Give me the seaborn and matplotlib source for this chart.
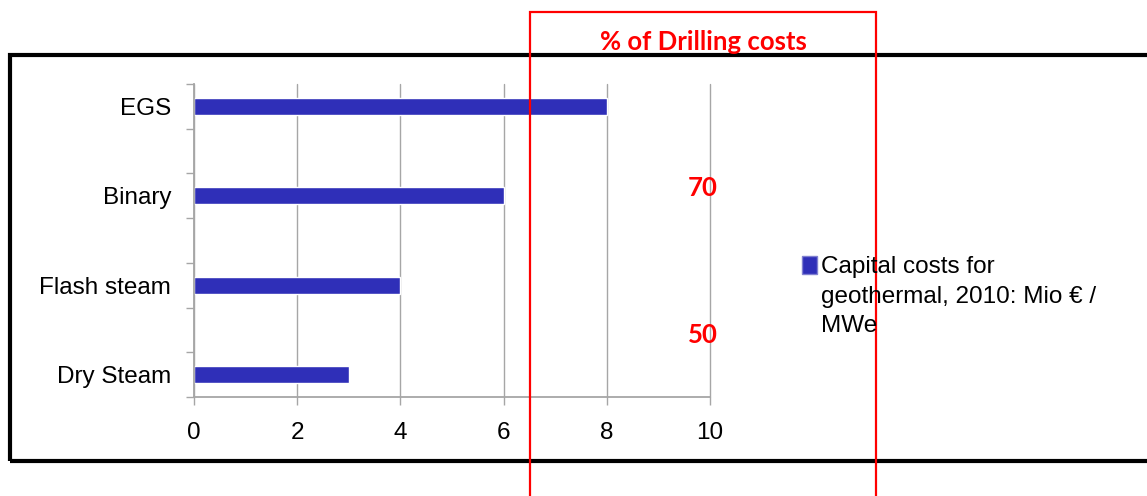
import matplotlib
matplotlib.use('Agg')
import matplotlib.pyplot as plt
import seaborn as sns
import pandas as pd
from matplotlib.patches import Rectangle, Patch
from matplotlib.ticker import FixedLocator

# data
plants = ['EGS', 'Binary', 'Flash steam', 'Dry Steam']
capital_costs = [8, 6, 4, 3]
drilling_share = ['70', '50']
series_name = 'Capital costs for\ngeothermal, 2010: Mio € /\nMWe'

df = pd.DataFrame({'plant': plants, 'cost': capital_costs})

sns.set_theme(style='white')
plt.rcParams['font.family'] = ['Liberation Sans', 'DejaVu Sans']
plt.rcParams['text.color'] = 'black'

bar_col = '#2F2FB8'
grid_col = '#A6A6A6'

fig = plt.figure(figsize=(11.47, 4.96), dpi=100)
ax = fig.add_axes([194 / 1147, 99 / 496, 516 / 1147, 313 / 496])

sns.barplot(data=df, x='cost', y='plant', order=plants, orient='h',
            color=bar_col, saturation=1, width=0.19, ax=ax)

ax.set_xlim(0, 10)
ax.set_ylim(3.25, -0.25)
ax.set_xticks([0, 2, 4, 6, 8, 10])
ax.set_xlabel('')
ax.set_ylabel('')
ax.grid(axis='x', color=grid_col, linewidth=1)
ax.set_axisbelow(True)
for gl in ax.get_xgridlines():
    gl.set_clip_on(False)

for s in ['top', 'right']:
    ax.spines[s].set_visible(False)
for s in ['left', 'bottom']:
    ax.spines[s].set_color(grid_col)
    ax.spines[s].set_linewidth(1.3)

ax.yaxis.set_minor_locator(FixedLocator([-0.25 + 0.5 * i for i in range(8)]))
ax.tick_params(axis='y', which='major', length=0, pad=16.5, labelsize=17.5, labelcolor='black')
ax.tick_params(axis='y', which='minor', left=True, length=6, width=1, color=grid_col)
ax.tick_params(axis='x', which='major', bottom=True, length=6, width=1, color=grid_col,
               pad=12, labelsize=17.5, labelcolor='black')

leg = fig.legend(handles=[Patch(facecolor=bar_col, edgecolor='#8080d0', label=series_name)],
                 loc='upper left', bbox_to_anchor=(802 / 1147, 1 - 256 / 496),
                 frameon=False, fontsize=17.5, handlelength=0.6, handleheight=0.75,
                 handletextpad=0.2, borderpad=0, borderaxespad=0, labelcolor='black')
for t in leg.get_texts():
    t.set_linespacing(1.45)
# put the marker next to the first line, like the original
for col in leg._legend_handle_box.get_children():
    for item in col.get_children():
        item.align = 'top'

# black outer frame
fig.patches.append(Rectangle((10 / 1147, 35 / 496), 1.2, 406 / 496, transform=fig.transFigure,
                             fill=False, edgecolor='black', linewidth=3, clip_on=False))

# red highlight box and notes
fig.patches.append(Rectangle((530 / 1147, -0.1), 346 / 1147, 1.1 - 12 / 496,
                             transform=fig.transFigure, fill=False, edgecolor='#FF0000',
                             linewidth=1.6, clip_on=False))
red_font = dict(color='#FF0000', fontweight='bold', family=['Lato', 'DejaVu Sans'],
                ha='center', va='center')
fig.text(703 / 1147, 1 - 42 / 496, '% of Drilling costs', fontsize=18.5, **red_font)
fig.text(703 / 1147, 1 - 188 / 496, drilling_share[0], fontsize=18.5, **red_font)
fig.text(703 / 1147, 1 - 335 / 496, drilling_share[1], fontsize=18.5, **red_font)

fig.savefig('out.png', dpi=100)
